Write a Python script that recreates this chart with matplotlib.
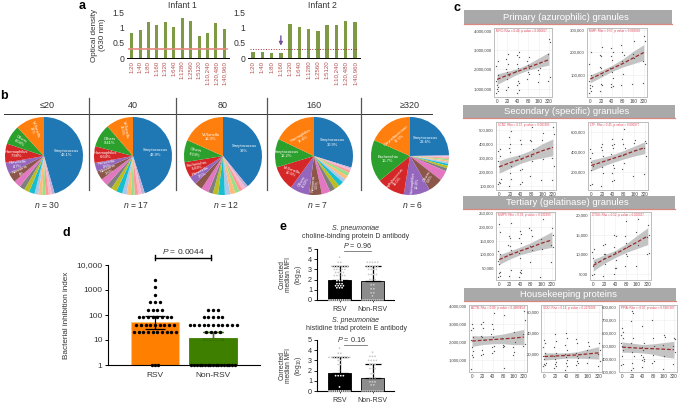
import matplotlib
matplotlib.use('Agg')
import matplotlib.pyplot as plt
import numpy as np

plt.rcParams['font.family'] = ['Liberation Sans', 'DejaVu Sans']
plt.rcParams['mathtext.fontset'] = 'custom'
plt.rcParams['mathtext.rm'] = 'Liberation Sans'
plt.rcParams['mathtext.it'] = 'Liberation Sans:italic'

W, H = 678, 403

# panel a
dilutions = ['1:20', '1:40', '1:80', '1:160', '1:320', '1:640', '1:1280', '1:2560',
             '1:5120', '1:10,240', '1:20,480', '1:40,960']
infant1 = [0.8, 0.9, 1.17, 1.07, 1.17, 1.02, 1.32, 1.2, 0.72, 0.83, 1.14, 0.95]
infant2 = [0.18, 0.18, 0.17, 0.17, 1.1, 1.0, 0.95, 0.88, 1.08, 1.08, 1.2, 1.17]
cutoff = 0.3

# panel b
pie_titles = ['≤20', '40', '80', '160', '≥320']
pie_n = ['30', '17', '12', '7', '6']
pie_colors = ['#1f77b4', '#c5b0d5', '#f7b6d2', '#ff9896', '#98df8a', '#ffbb78', '#aec7e8',
              '#17becf', '#bcbd22', '#7f7f7f', '#e377c2', '#8c564b', '#9467bd', '#d62728',
              '#2ca02c', '#ff7f0e']
pie1 = [46.1, 1.2, 1.2, 1.4, 1.4, 1.6, 1.6, 2.4, 2.2, 2.2, 3.0, 4.0, 4.7, 7.98, 8.08, 12.0]
pie2 = [43.9, 1.3, 1.3, 1.5, 1.5, 1.7, 1.8, 2.5, 2.3, 2.2, 3.0, 3.6, 3.6, 6.69, 9.41, 11.0]
pie3 = [39.0, 1.2, 1.3, 1.5, 1.8, 2.0, 2.3, 2.8, 2.2, 2.0, 3.0, 3.2, 3.5, 6.49, 9.19, 18.3]
pie4 = [30.9, 0.6, 0.8, 1.0, 1.6, 1.6, 1.6, 2.2, 2.2, 2.4, 3.6, 5.5, 8.3, 10.6, 12.2, 18.6]
pie5 = [23.6, 0.4, 0.5, 0.5, 0.6, 0.6, 0.7, 0.8, 1.0, 1.2, 4.0, 5.8, 10.4, 11.0, 16.7, 17.5]
pie_values = [pie1, pie2, pie3, pie4, pie5]
pie_labels = [
    {0: ('Streptococcus\n46.1%', 0), 15: ('Veillonella\n12%', -72), 14: ('Others\n8.08%', -30),
     13: ('Haemophilus\n7.98%', 0), 12: ('Prevotella\n4.7%', 5), 11: ('Neisseria\n4%', 25)},
    {0: ('Streptococcus\n43.9%', 0), 15: ('Veillonella\n11.0%', -80), 14: ('Others\n9.41%', 0),
     13: ('Haemophilus\n6.69%', 0), 12: ('Prevotella\n3.6%', 10), 11: ('Neisseria\n3.6%', 25)},
    {0: ('Streptococcus\n39%', 0), 15: ('Veillonella\n18.3%', 0), 14: ('Others\n9.19%', -10),
     13: ('Escherichia\n6.49%', 10), 12: ('Prevotella\n3.5%', 25)},
    {0: ('Streptococcus\n30.9%', 0), 15: ('Haemophilus\n18.6%', 30), 14: ('Streptococcus\n12.2%', 0),
     13: ('Veillonella\n10.6%', -20), 12: ('Others\n8.30%', 60), 11: ('Neisseria\n5.5%', 85)},
    {0: ('Streptococcus\n23.6%', 0), 15: ('Corynebacterium\n17.5%', 40), 14: ('Escherichia\n16.7%', 0),
     13: ('Staphylococcus\n11.0%', 50), 12: ('Haemophilus\n10.4%', 85), 11: ('Others\n5.8%', 60)},
]

# panel d: (titre, number of infants)
groups_d = ['RSV', 'Non-RSV']
heights_d = [50, 11]
upper_d = [90, 21]
lower_d = [28, 11]
rsv_rows = [(1, 3), (20, 10), (40, 9), (80, 8), (160, 4), (320, 3), (640, 1), (1280, 1), (2560, 1)]
nonrsv_rows = [(1, 17), (20, 4), (40, 11), (80, 5), (160, 3)]

# panel e
groups_e = ['RSV', 'Non-RSV']
cbpd_heights = [1.95, 1.85]
cbpd_upper = [3.35, 3.35]
phte_heights = [1.75, 1.25]
phte_upper = [3.35, 2.6]
cbpd_rsv = [(0, 12), (1.2, 3), (1.4, 4), (1.6, 3), (1.9, 3), (2.4, 5), (2.7, 4), (3.0, 5), (3.3, 7), (3.7, 2), (4.2, 1)]
cbpd_non = [(0, 12), (0.4, 1), (0.7, 2), (1.1, 2), (1.5, 2), (2.0, 3), (2.5, 4), (3.0, 4), (3.3, 5), (3.7, 5)]
phte_rsv = [(0, 12), (0.4, 1), (1.5, 4), (2.0, 1), (2.6, 2), (3.0, 2), (3.3, 9), (3.7, 2), (4.2, 1)]
phte_non = [(0, 12), (0.6, 2), (0.9, 3), (1.3, 3), (1.7, 2), (2.2, 3), (2.6, 3), (3.0, 4), (3.4, 3), (3.8, 1)]

# panel c
titres = ['0', '20', '40', '80', '160', '320']
p1_pts = [[800, 900, 1000, 1100, 1200, 1400, 1700, 2150, 2450],
          [950, 1100, 1500, 1700, 1850, 2000, 2300, 2550, 2800],
          [800, 950, 1200, 1300, 1400, 1900, 2050, 2300, 2650, 2750, 2900],
          [1500, 1750, 1850, 2050, 2200, 2450, 2650],
          [1350, 1750, 1950, 2050],
          [1400, 1600, 2800, 3400, 3550]]
p2_pts = [[20, 30, 40, 50, 55, 75, 100, 150, 200],
          [30, 55, 60, 100, 130, 135, 185, 190, 225],
          [45, 50, 60, 85, 115, 130, 165, 185, 200, 220],
          [55, 105, 160, 190, 200, 235],
          [60, 175, 195, 250],
          [65, 150, 160, 250, 275]]
s1_pts = [[110, 120, 130, 150, 240, 280, 310, 350, 360],
          [100, 150, 190, 240, 340, 370, 400, 450, 490],
          [110, 130, 210, 220, 290, 310, 400, 430],
          [170, 280, 310, 360, 420, 430, 520],
          [140, 290, 430, 480],
          [140, 240, 300, 470, 520]]
s2_pts = [[70, 75, 220, 260, 300, 340, 390, 430],
          [60, 190, 250, 360, 420, 450, 480],
          [110, 120, 190, 240, 270, 380, 440, 470, 480, 530],
          [230, 290, 370, 440, 480, 530, 630],
          [160, 420, 490, 520],
          [180, 360, 440, 490, 510]]
t1_pts = [[15, 20, 30, 35, 65, 75, 100, 110, 180, 210],
          [20, 40, 100, 115, 130, 135, 160, 165, 215],
          [15, 30, 35, 40, 85, 105, 140, 160, 175, 185],
          [70, 115, 130, 165, 190, 195],
          [15, 120, 155, 230],
          [70, 125, 135, 170, 195]]
t2_pts = [[4800, 5000, 7000, 8000, 9000, 10500, 11500],
          [4500, 7500, 9000, 10000, 10200, 12500, 12700],
          [5000, 6500, 6600, 8500, 10500, 12000, 14800, 15000],
          [7000, 9500, 10200, 12000, 13000, 14800, 18500],
          [7000, 12500, 15800, 19000],
          [10000, 10300, 14500, 15000, 17500]]
h1_pts = [[500, 1150, 1300, 1500, 1700, 2100, 2300, 2650, 2800, 3000],
          [1250, 1350, 1550, 2100, 2250, 2350, 2800, 3000, 3100],
          [1400, 1500, 1700, 1800, 2300, 2450, 2700, 3000, 3600],
          [200, 550, 1700, 1800, 1850, 2200, 3500],
          [1300, 1450, 1700, 2000, 2550],
          [1800, 1900, 2450, 3200, 3700]]
h2_pts = [[8, 9, 10, 11, 15, 18, 21, 27, 30, 33],
          [6, 8, 10, 12, 15, 18, 21, 27, 32, 39],
          [5, 8, 11, 14, 17, 20, 24, 29, 35, 40],
          [9, 11, 13, 16, 18, 21, 30, 34],
          [11, 17, 24, 28, 31],
          [8, 13, 20, 24, 30]]
h3_pts = [[350, 360, 420, 470, 500, 520, 560, 580, 610, 640],
          [310, 330, 370, 420, 450, 520, 560, 690, 750, 770],
          [340, 380, 390, 400, 410, 430, 470, 490, 520, 650],
          [370, 380, 430, 500, 560, 700],
          [320, 420, 510, 570, 580],
          [360, 450, 500, 550, 560]]
p1_fit = [[1480, 1700, 1900, 2100, 2300, 2500], [1220, 1500, 1760, 1960, 2100, 2220], [1760, 1900, 2040, 2280, 2580, 2880]]
p2_fit = [[82, 105, 128, 150, 175, 200], [65, 90, 115, 135, 150, 165], [100, 120, 142, 170, 205, 235]]
s1_fit = [[235, 265, 290, 320, 350, 375], [190, 225, 260, 285, 300, 315], [280, 305, 325, 355, 400, 435]]
s2_fit = [[265, 300, 335, 370, 410, 445], [210, 255, 295, 330, 360, 385], [320, 345, 375, 415, 460, 505]]
t1_fit = [[80, 97, 112, 125, 140, 152], [62, 82, 98, 108, 118, 125], [98, 112, 126, 142, 162, 182]]
t2_fit = [[7200, 8800, 10100, 11600, 13100, 14700], [5800, 7700, 9200, 10500, 11500, 12500], [8700, 9900, 11000, 12700, 14800, 16800]]
h1_fit = [[2050, 2090, 2130, 2170, 2210, 2270], [1750, 1850, 1900, 1900, 1850, 1850], [2350, 2330, 2360, 2440, 2570, 2700]]
h2_fit = [[17.5, 18, 18.5, 19, 20, 21], [14, 15, 16, 16, 15.5, 15], [21, 21, 21, 22, 24.5, 27]]
h3_fit = [[490, 485, 480, 478, 474, 470], [450, 450, 445, 435, 415, 405], [530, 520, 510, 515, 525, 535]]
scatter_notes = ['MPO: Rho = 0.49, p value = 0.000067', 'MMP: Rho = 0.57, p value = 0.000008',
                 'LCN2: Rho = 0.37, p value = 0.003305', 'LTF: Rho = 0.45, p value = 0.000377',
                 'MMP9: Rho = 0.38, p value = 0.001993', 'CTSS: Rho = 0.52, p value = 0.000027',
                 'ACTB: Rho = 0.09, p value = 0.4989454', 'GDI2: Rho = 0.14, p value = 0.2971006',
                 'PPIA: Rho = -0.07, p value = 0.5907107']
granule_titles = ['Primary (azurophilic) granules', 'Secondary (specific) granules',
                  'Tertiary (gelatinase) granules', 'Housekeeping proteins']

fig = plt.figure(figsize=(W / 100, H / 100), dpi=100)


def add_ax(left, top, right, bottom):
    return fig.add_axes([left / W, 1 - bottom / H, (right - left) / W, (bottom - top) / H])


def px_text(x, y, s, **kw):
    kw.setdefault('ha', 'center')
    kw.setdefault('va', 'center')
    kw.setdefault('color', '#333333')
    fig.text(x / W, 1 - y / H, s, **kw)


# a: optical density bars
for values, left, right, title, title_x in [(infant1, 127, 229, 'Infant 1', 182), (infant2, 248, 360, 'Infant 2', 322)]:
    ax = add_ax(left, 12, right, 58)
    x = np.arange(12)
    ax.bar(x, values, width=0.36, color='#7f9a45')
    ax.set_ylim(0, 1.5)
    ax.set_xlim(-0.55, 11.55)
    ax.set_yticks([0, 0.5, 1, 1.5], ['0', '0.5', '1', '1.5'], fontsize=6.2, color='#333333')
    ax.set_xticks(x, dilutions, rotation=90, fontsize=4.4, color='#b5504f')
    ax.tick_params(axis='both', length=0, pad=2)
    for s in ['top', 'left', 'right']:
        ax.spines[s].set_visible(False)
    ax.spines['bottom'].set_linewidth(0.7)
    if values is infant1:
        ax.plot([-0.3, 11.3], [cutoff, cutoff], color='#e58a80', lw=1.2)
    else:
        ax.plot([-0.3, 11.3], [cutoff, cutoff], color='#a03030', lw=0.7, ls=':')
        ax.annotate('', xy=(3, 0.4), xytext=(3, 0.72),
                    arrowprops=dict(arrowstyle='-|>', color='#7b4fa0', lw=1, mutation_scale=5, shrinkA=0, shrinkB=0))
    px_text(title_x, 5, title, fontsize=6.2)
px_text(98, 35, 'Optical density\n(630 nm)', rotation=90, fontsize=5.9)

# b: genus pies
centres = [44, 133, 223, 314, 410]
for i, values in enumerate(pie_values):
    cx = centres[i]
    ax = add_ax(cx - 41, 156 - 41, cx + 41, 156 + 41)
    wedges, _ = ax.pie(values, colors=pie_colors, startangle=90, counterclock=False, radius=39 / 41)
    ax.set_xlim(-1, 1)
    ax.set_ylim(-1, 1)
    for idx, (label, rot) in pie_labels[i].items():
        w = wedges[idx]
        mid = np.deg2rad((w.theta1 + w.theta2) / 2)
        frac = 0.55 if values[idx] > 15 else 0.68
        ax.text(frac * np.cos(mid), frac * np.sin(mid), label, rotation=rot, fontsize=2.9,
                color='white', ha='center', va='center', linespacing=1.1)
    px_text(cx + (3 if i == 0 else 0), 105, pie_titles[i], fontsize=6.5)
    px_text(cx + 3, 205, '$\\it{n}$ = ' + pie_n[i], fontsize=6.2)
fig.add_artist(plt.Line2D([4 / W, 432 / W], [1 - 114 / H, 1 - 114 / H], color='#333333', lw=0.7))
for sep in [89, 176, 267, 361]:
    fig.add_artist(plt.Line2D([sep / W, sep / W], [1 - 98 / H, 1 - 190 / H], color='#555555', lw=0.9))


def row_points(rows, centre, spacing, width_rows=None):
    xs, ys = [], []
    for value, count in rows:
        step = spacing
        if width_rows and value in width_rows:
            step = width_rows[value]
        for k in range(count):
            xs.append(centre + (k - (count - 1) / 2) * step)
            ys.append(value)
    return np.array(xs), np.array(ys)


# d: inhibition index
ax = add_ax(108, 265, 260, 365)
ax.set_xlim(108, 260)
ax.set_yscale('log')
ax.set_ylim(1, 10000)
ax.bar([155, 213], heights_d, width=48, bottom=1, color=['#ff8000', '#3f7f00'], edgecolor=['#ffc470', '#3f7f00'], lw=0.6)
ax.errorbar([155, 213], heights_d,
            yerr=[np.array(heights_d) - np.array(lower_d), np.array(upper_d) - np.array(heights_d)],
            fmt='none', ecolor='black', capsize=7, lw=0.9, capthick=0.9, zorder=3)
ax.errorbar([213], [heights_d[1]], yerr=[[0], [upper_d[1] - heights_d[1]]], fmt='none', ecolor='#3f7f00', capsize=7, lw=1, zorder=4)
for rows, c in [(rsv_rows, 155), (nonrsv_rows, 213)]:
    xs, ys = row_points(rows, c, 4.7, {1: 2.7})
    ax.scatter(xs, ys, s=6, color='black', zorder=5, clip_on=False, lw=0)
ax.set_xticks([155, 213], groups_d, fontsize=6, color='#333333')
ax.set_yticks([1, 10, 100, 1000, 10000], ['1', '10', '100', '1000', '10,000'], fontsize=6, color='#333333')
ax.tick_params(axis='x', length=0, pad=5)
ax.tick_params(axis='y', which='major', length=2.5, width=0.7, pad=1.5)
ax.tick_params(axis='y', which='minor', length=1.3, width=0.4)
for s in ['top', 'right']:
    ax.spines[s].set_visible(False)
for s in ['left', 'bottom']:
    ax.spines[s].set_linewidth(0.8)
fig.add_artist(plt.Line2D([155 / W, 211 / W], [1 - 257.5 / H, 1 - 257.5 / H], color='black', lw=1))
for x_end in [155, 211]:
    fig.add_artist(plt.Line2D([x_end / W, x_end / W], [1 - 255 / H, 1 - 260 / H], color='black', lw=1))
px_text(183, 251, '$\\it{P}$ = 0.0044', fontsize=6)
px_text(67, 315, 'Bacterial inhibition index', rotation=90, fontsize=5.9)

# e: antibody bars
e_panels = [(249, 300, cbpd_heights, cbpd_upper, cbpd_rsv, cbpd_non),
            (340, 391, phte_heights, phte_upper, phte_rsv, phte_non)]
for top, bottom, heights, upper, rsv_pts, non_pts in e_panels:
    ax = add_ax(317, top, 394, bottom)
    ax.set_xlim(317, 394)
    ax.set_ylim(0, 5)
    ax.bar([339.5, 372.5], heights, width=23, color=['black', '#8c8c8c'], edgecolor='black', lw=0.6)
    ax.errorbar([339.5, 372.5], heights, yerr=[[0, 0], np.array(upper) - np.array(heights)],
                fmt='none', ecolor='black', capsize=6, lw=0.9, capthick=0.9, zorder=3)
    for rows, c, h in [(rsv_pts, 339.5, heights[0]), (non_pts, 372.5, heights[1])]:
        xs, ys = row_points(rows, c, 2.6, {0: 1.9})
        cols = ['white' if (y < h and c < 350) else '#c9c9c9' for y in ys]
        ax.scatter(xs, ys, s=1.6, c=cols, zorder=4, clip_on=False, lw=0)
    ax.set_xticks([339.5, 372.5], groups_e, fontsize=5, color='#333333')
    ax.set_yticks(range(6))
    ax.tick_params(axis='y', labelsize=5.2, length=2, width=0.6, pad=1.5, labelcolor='#333333')
    ax.tick_params(axis='x', length=1.5, width=0.5, pad=3)
    for s in ['top', 'right']:
        ax.spines[s].set_visible(False)
    for s in ['left', 'bottom']:
        ax.spines[s].set_linewidth(0.8)
    px_text(291, (top + bottom) / 2, 'Corrected\nmedian MFI\n(log$_{10}$)', rotation=90, fontsize=4.8, linespacing=1.05)
px_text(356, 229, 'S. pneumoniae', fontsize=5, style='italic')
px_text(356, 237, 'choline-binding protein D antibody', fontsize=5)
px_text(357, 246, '$\\it{P}$ = 0.96', fontsize=5.2)
fig.add_artist(plt.Line2D([344 / W, 371 / W], [1 - 251 / H, 1 - 251 / H], color='#555555', lw=0.5))
px_text(356, 320, 'S. pneumoniae', fontsize=5, style='italic')
px_text(356, 328, 'histidine triad protein E antibody', fontsize=5)
px_text(351, 339, '$\\it{P}$ = 0.16', fontsize=5.2)
fig.add_artist(plt.Line2D([344 / W, 367 / W], [1 - 345 / H, 1 - 345 / H], color='#555555', lw=0.5))

# c: header strips
for title, (left, top, right, bottom) in zip(granule_titles, [(464, 10, 672, 24), (463, 105, 675, 118),
                                                             (463, 196, 675, 209), (464, 288, 676, 301)]):
    fig.patches.append(plt.Rectangle((left / W, 1 - bottom / H), (right - left) / W, (bottom - top) / H,
                                     transform=fig.transFigure, color='#a9a9a9', lw=0))
    fig.add_artist(plt.Line2D([left / W, right / W], [1 - bottom / H, 1 - bottom / H], color='#d98880', lw=0.9))
    px_text((left + right) / 2 - 2, (top + bottom) / 2, title, fontsize=6.8, color='white')

# c: correlation scatters
scatter_specs = [
    (494, 28, 552, 97, p1_pts, p1_fit, (570, 4140), [1000, 2000, 3000, 4000], ['1,000,000', '2,000,000', '3,000,000', '4,000,000']),
    (587, 28, 647, 97, p2_pts, p2_fit, (2, 309), [100, 200, 300], ['100,000', '200,000', '300,000']),
    (496, 122, 556, 190, s1_pts, s1_fit, (69, 557), [100, 200, 300, 400, 500], ['100,000', '200,000', '300,000', '400,000', '500,000']),
    (588, 122, 648, 190, s2_pts, s2_fit, (18, 704), [200, 400, 600], ['200,000', '400,000', '600,000']),
    (496, 212, 555, 280, t1_pts, t1_fit, (5, 255), [50, 100, 150, 200, 250], ['50,000', '100,000', '150,000', '200,000', '250,000']),
    (590, 212, 651, 280, t2_pts, t2_fit, (3500, 20800), [5000, 10000, 15000, 20000], ['5000', '10,000', '15,000', '20,000']),
    (469, 305, 527, 372, h1_pts, h1_fit, (330, 4050), [1000, 2000, 3000, 4000], ['1,000,000', '2,000,000', '3,000,000', '4,000,000']),
    (541, 305, 602, 372, h2_pts, h2_fit, (2.6, 67), [20, 40, 60], ['20,000', '40,000', '60,000']),
    (619, 305, 677, 372, h3_pts, h3_fit, (298, 815), [300, 400, 500, 600, 700, 800],
     ['300,000', '400,000', '500,000', '600,000', '700,000', '800,000']),
]
jitter = [-0.1, 0.08, -0.04, 0.12, 0.0, -0.13, 0.05]
for spec, note in zip(scatter_specs, scatter_notes):
    left, top, right, bottom, pts, fit, ylim, yticks, ylabels = spec
    ax = add_ax(left, top, right, bottom)
    cat = np.arange(6)
    ax.set_xlim(-0.3, 5.3)
    ax.set_ylim(*ylim)
    ax.grid(color='#eeeeee', lw=0.4)
    ax.set_axisbelow(True)
    ax.fill_between(cat, fit[1], fit[2], color='#c4c4c4', lw=0, zorder=2)
    ax.plot(cat, fit[0], color='#9c2a2a', lw=0.9, ls=(0, (3, 1.5)), zorder=3)
    for c, ys in enumerate(pts):
        xs = [c + jitter[k % len(jitter)] for k in range(len(ys))]
        ax.scatter(xs, ys, s=0.9, color='#555555', lw=0, zorder=4)
    ax.set_xticks(cat, titres, fontsize=3.4, color='#444444')
    ax.set_yticks(yticks, ylabels, fontsize=3.1, color='#444444')
    ax.tick_params(length=0, pad=1.5)
    for s in ax.spines.values():
        s.set_color('#bdbdbd')
        s.set_linewidth(0.7)
    ax.text(0.03, 0.95, note, transform=ax.transAxes, fontsize=2.15, color='#e2475a', va='center', ha='left')

# panel letters
for letter, x, y in [('a', 82, 6), ('b', 4, 96), ('c', 457, 8), ('d', 66, 233), ('e', 283, 227)]:
    px_text(x, y, letter, fontsize=9, fontweight='bold', color='black')

fig.savefig('out.png', dpi=100)
